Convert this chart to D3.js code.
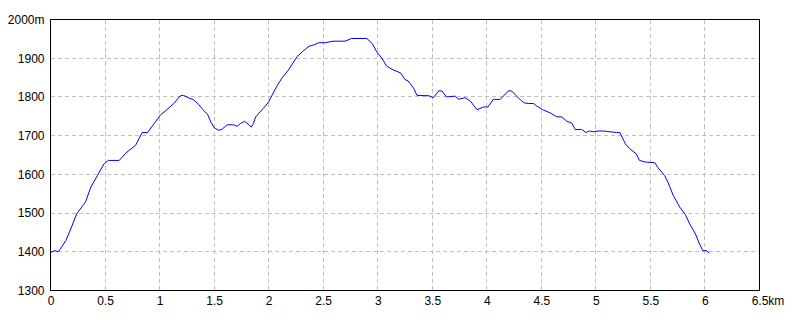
<!DOCTYPE html>
<html>
<head>
<meta charset="utf-8">
<script src="https://cdn.jsdelivr.net/npm/d3@7"></script>
<style>
  body { margin: 0; background: #fff; }
  svg text { font-family: "Liberation Sans Narrow", "Liberation Sans", Arial, sans-serif; font-size: 12px; fill: #000; }
</style>
</head>
<body>
<div id="profile"></div>
<script>
// distance along the route (km) and elevation (m)
let dist = [0, 0.04, 0.07, 0.09, 0.14, 0.18, 0.24, 0.32, 0.37, 0.43,
    0.49, 0.53, 0.63, 0.69, 0.78, 0.84, 0.89, 0.96, 1.01, 1.05,
    1.13, 1.19, 1.22, 1.27, 1.31, 1.36, 1.40, 1.44, 1.47, 1.50,
    1.54, 1.57, 1.62, 1.68, 1.71, 1.74, 1.78, 1.82, 1.84, 1.86,
    1.88, 1.92, 1.95, 2.00, 2.03, 2.08, 2.12, 2.18, 2.26, 2.31,
    2.37, 2.41, 2.46, 2.52, 2.59, 2.70, 2.76, 2.90, 2.95, 2.99,
    3.04, 3.08, 3.14, 3.21, 3.25, 3.28, 3.33, 3.36, 3.47, 3.51,
    3.56, 3.59, 3.63, 3.71, 3.74, 3.80, 3.85, 3.91, 3.97, 4.01,
    4.06, 4.12, 4.20, 4.23, 4.29, 4.34, 4.38, 4.43, 4.46, 4.52,
    4.58, 4.64, 4.69, 4.73, 4.78, 4.81, 4.87, 4.91, 4.94, 4.98,
    5.02, 5.07, 5.19, 5.22, 5.27, 5.31, 5.37, 5.40, 5.45, 5.54,
    5.57, 5.63, 5.66, 5.71, 5.77, 5.82, 5.86, 5.91, 5.95, 5.98,
    6.01, 6.04];

let elev = [1398, 1403, 1400, 1407, 1429, 1455, 1498, 1528, 1567, 1597,
    1627, 1636, 1636, 1655, 1675, 1708, 1708, 1735, 1754, 1763,
    1783, 1803, 1804, 1797, 1793, 1780, 1766, 1755, 1735, 1721,
    1714, 1716, 1728, 1728, 1724, 1731, 1737, 1728, 1722, 1731,
    1748, 1761, 1770, 1787, 1804, 1830, 1848, 1869, 1904, 1917,
    1931, 1934, 1940, 1940, 1944, 1944, 1951, 1951, 1938, 1917,
    1899, 1880, 1870, 1862, 1845, 1841, 1822, 1804, 1803, 1798,
    1816, 1815, 1800, 1802, 1794, 1798, 1789, 1767, 1774, 1774,
    1794, 1793, 1816, 1815, 1797, 1785, 1783, 1783, 1776, 1766,
    1759, 1749, 1748, 1738, 1732, 1716, 1716, 1708, 1712, 1710,
    1712, 1712, 1708, 1708, 1679, 1666, 1653, 1636, 1632, 1630,
    1617, 1597, 1580, 1545, 1515, 1496, 1472, 1448, 1420, 1403,
    1403, 1397];

let xTicks = [0, 0.5, 1, 1.5, 2, 2.5, 3, 3.5, 4, 4.5, 5, 5.5, 6, 6.5];
let yTicks = [1300, 1400, 1500, 1600, 1700, 1800, 1900, 2000];

function draw_profile() {
    let width = 800;
    let height = 320;
    let left = 50.5, right = 759.5, top = 19.5, bottom = 290.5;

    let x = d3.scaleLinear().domain([0, 6.5]).range([left, right]);
    let y = d3.scaleLinear().domain([1300, 2000]).range([bottom, top]);

    let svg = d3.select("#profile")
        .append("svg")
        .attr("width", width)
        .attr("height", height);

    // dashed grid
    let grid = svg.append("g")
        .attr("stroke", "#c0c0c0")
        .attr("stroke-width", 1)
        .attr("stroke-dasharray", "4,3")
        .attr("shape-rendering", "crispEdges");

    grid.selectAll(".gx")
        .data(xTicks.slice(1, -1))
        .enter()
        .append("line")
        .attr("x1", d => x(d)).attr("x2", d => x(d))
        .attr("y1", top).attr("y2", bottom);

    grid.selectAll(".gy")
        .data(yTicks.slice(1, -1))
        .enter()
        .append("line")
        .attr("x1", left).attr("x2", right)
        .attr("y1", d => y(d)).attr("y2", d => y(d));

    // frame
    svg.append("rect")
        .attr("x", left).attr("y", top)
        .attr("width", right - left).attr("height", bottom - top)
        .attr("fill", "none")
        .attr("stroke", "#000")
        .attr("stroke-width", 1)
        .attr("shape-rendering", "crispEdges");

    // axes labels
    let yAxis = d3.axisLeft(y)
        .tickValues(yTicks)
        .tickSize(0)
        .tickPadding(6)
        .tickFormat(d => d === 2000 ? d + "m" : d);
    svg.append("g")
        .attr("transform", `translate(${left},0)`)
        .call(yAxis)
        .call(g => g.select(".domain").remove());

    let xAxis = d3.axisBottom(x)
        .tickValues(xTicks)
        .tickSize(0)
        .tickPadding(6)
        .tickFormat(d => d);
    let gx = svg.append("g")
        .attr("transform", `translate(0,${bottom})`)
        .call(xAxis)
        .call(g => g.select(".domain").remove());

    // "km" unit after the last tick label
    let last = gx.selectAll(".tick text").filter(d => d === 6.5);
    let w = last.node().getComputedTextLength();
    last.attr("text-anchor", "start").attr("x", -w / 2);
    last.append("tspan").text("km");

    svg.selectAll(".tick text")
        .style("font-family", "'Liberation Sans Narrow', 'Liberation Sans', Arial, sans-serif")
        .style("font-size", "12px")
        .attr("fill", "#000");

    // elevation line
    let pts = dist.map((d, i) => [d, elev[i]]);
    let line = d3.line()
        .x(d => x(d[0]))
        .y(d => y(d[1]));

    svg.append("path")
        .datum(pts)
        .attr("d", line)
        .attr("fill", "none")
        .attr("stroke", "#0000ff")
        .attr("stroke-width", 1);
}

draw_profile();
</script>
</body>
</html>
